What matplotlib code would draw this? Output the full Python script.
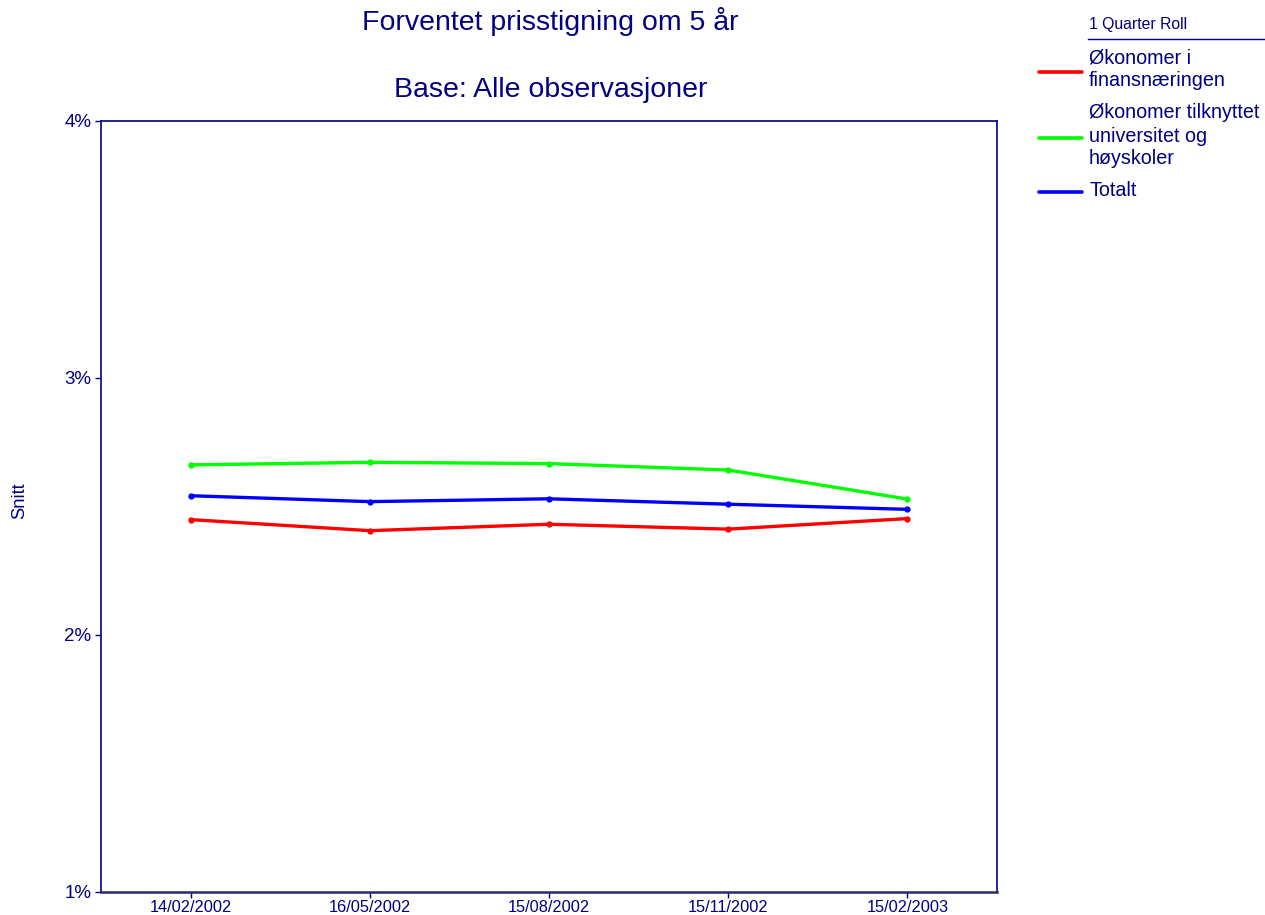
import matplotlib
matplotlib.use("Agg")
import matplotlib.pyplot as plt
from matplotlib.lines import Line2D

dates = ["14/02/2002", "16/05/2002", "15/08/2002", "15/11/2002", "15/02/2003"]
finans = [2.447, 2.404, 2.429, 2.410, 2.451]
universitet = [2.660, 2.670, 2.665, 2.640, 2.527]
totalt = [2.540, 2.517, 2.528, 2.507, 2.487]
series_labels = ["Økonomer i\nfinansnæringen",
                 "Økonomer tilknyttet\nuniversitet og\nhøyskoler",
                 "Totalt"]
yticks = [1, 2, 3, 4]
ytick_labels = ["1%", "2%", "3%", "4%"]

navy = "#000080"
plt.rcParams['font.family'] = ['Liberation Sans', 'DejaVu Sans']

W, H = 1265, 915
fig = plt.figure(figsize=(W/100, H/100), dpi=100)
ax = fig.add_axes([101/W, (H-891.5)/H, 896/W, 771/H])

x = list(range(len(dates)))
colors = ["#ff0000", "#00ff00", "#0000ff"]
for vals, c in zip([finans, universitet, totalt], colors):
    ax.plot(x, vals, color=c, lw=2.4, marker='o', markersize=3.5, solid_joinstyle='round')

ax.set_xlim(-0.5, len(dates) - 0.5)
ax.set_ylim(1, 4)
ax.set_xticks(x)
ax.set_xticklabels(dates, fontsize=11.8, color=navy)
ax.set_yticks(yticks)
ax.set_yticklabels(ytick_labels, fontsize=13.5, color=navy)
ax.tick_params(axis='both', colors=navy, length=4, width=1)
ax.tick_params(axis='y', pad=3)
ax.tick_params(axis='x', pad=2)
for s in ['left', 'right', 'top']:
    ax.spines[s].set_color(navy)
    ax.spines[s].set_linewidth(1.2)
ax.spines['bottom'].set_color("#2a2a6a")
ax.spines['bottom'].set_linewidth(1.8)

def fx(px):
    return px / W

def fy(py):
    return 1 - py / H

fig.text(fx(20), fy(501), "Snitt", rotation=90, ha='center', va='center',
         fontsize=13.2, color=navy)
fig.text(fx(550), fy(22), "Forventet prisstigning om 5 år", ha='center', va='center',
         fontsize=20.5, color=navy)
fig.text(fx(551), fy(90), "Base: Alle observasjoner", ha='center', va='center',
         fontsize=20.5, color=navy)

# legend
fig.text(fx(1089), fy(25), "1 Quarter Roll", ha='left', va='center', fontsize=11.3, color=navy)
fig.add_artist(Line2D([fx(1088), fx(1265)], [fy(39), fy(39)], color=navy, lw=1))
line_y = [72, 138, 192]
text_y = [[58, 80], [112, 136, 159], [190]]
for lab, c, ly, tys in zip(series_labels, colors, line_y, text_y):
    fig.add_artist(Line2D([fx(1039), fx(1082)], [fy(ly), fy(ly)], color=c, lw=2.6,
                          solid_capstyle='round'))
    for part, ty in zip(lab.split("\n"), tys):
        fig.text(fx(1089), fy(ty), part, ha='left', va='center', fontsize=14.2, color=navy)

fig.savefig("out.png", dpi=100)
